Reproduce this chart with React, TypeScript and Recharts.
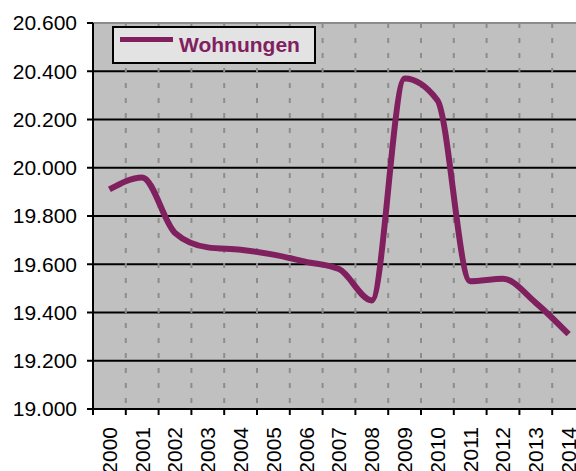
import React from 'react';
import { LineChart, Line, XAxis, YAxis, CartesianGrid, ReferenceLine } from 'recharts';

const years = ['2000', '2001', '2002', '2003', '2004', '2005', '2006', '2007', '2008', '2009', '2010', '2011', '2012', '2013', '2014'];
const wohnungen = [19910, 19960, 19730, 19670, 19660, 19640, 19610, 19580, 19450, 20370, 20280, 19530, 19540, 19440, 19310];
const yTicks = [19000, 19200, 19400, 19600, 19800, 20000, 20200, 20400, 20600];

const data = years.map((year, i) => ({ year, wohnungen: wohnungen[i] }));

const PURPLE = '#80205F';
const CHART_W = 600;
const CHART_H = 480;
const Y_W = 93;
const M_RIGHT = 15;
const BAND = (CHART_W - Y_W - M_RIGHT) / years.length;

// German thousands separator, e.g. 20.600
const fmt = (v: number) => `${Math.floor(v / 1000)}.${String(v % 1000).padStart(3, '0')}`;

const YearTick = ({ x, y, payload, index }: any) => (
  <g>
    <line x1={x - BAND / 2} y1={y} x2={x - BAND / 2} y2={y + 6} stroke="#000" strokeWidth={2} />
    {index === years.length - 1 && (
      <line x1={x + BAND / 2} y1={y} x2={x + BAND / 2} y2={y + 6} stroke="#000" strokeWidth={2} />
    )}
    <text
      x={x} y={y + 18} dy="0.35em" textAnchor="end" fontSize={21} fill="#000"
      transform={`rotate(-90, ${x}, ${y + 18})`}
    >
      {payload.value}
    </text>
  </g>
);

export default function App() {
  return (
    <div style={{
      position: 'absolute', left: 0, top: 0, width: 576, height: 471, overflow: 'hidden',
      background: '#fff', fontFamily: '"Liberation Sans", Arial, sans-serif',
    }}>
      <LineChart width={CHART_W} height={CHART_H} data={data} margin={{ top: 23, right: M_RIGHT, bottom: 0, left: 0 }}>
        <CartesianGrid vertical={false} fill="#C0C0C0" stroke="#000" strokeWidth={2} />
        <CartesianGrid
          horizontal={false} stroke="#8C8C8C" strokeWidth={2} strokeDasharray="5 10"
          verticalCoordinatesGenerator={({ offset }: any) =>
            years.map((_, i) => offset.left + (i + 1) * (offset.width / years.length))}
        />
        <XAxis
          dataKey="year" interval={0} height={CHART_H - 409}
          padding={{ left: BAND / 2, right: BAND / 2 }}
          axisLine={{ stroke: '#000', strokeWidth: 2 }} tickLine={false} tickSize={0} tickMargin={0}
          tick={<YearTick />}
        />
        <YAxis
          domain={[19000, 20600]} ticks={yTicks} width={Y_W} allowDataOverflow
          tickSize={6} tickMargin={10} tickFormatter={fmt}
          axisLine={{ stroke: '#000', strokeWidth: 2 }} tickLine={{ stroke: '#000', strokeWidth: 2 }}
          tick={{ fill: '#000', fontSize: 21 }}
        />
        <ReferenceLine y={20600} stroke="#8C8C8C" strokeWidth={2} />
        <Line
          dataKey="wohnungen" name="Wohnungen" type="monotone"
          stroke={PURPLE} strokeWidth={6} dot={false} isAnimationActive={false}
        />
      </LineChart>

      <div style={{
        position: 'absolute', left: 112, top: 26, width: 204, height: 38, boxSizing: 'border-box',
        border: '2px solid #000', background: '#E3E3E3',
      }}>
        <span style={{ position: 'absolute', left: 6, top: 9, width: 53, height: 5, background: PURPLE }} />
        <span style={{
          position: 'absolute', left: 65, top: 0, lineHeight: '34px', fontSize: 21,
          fontWeight: 'bold', color: PURPLE, whiteSpace: 'nowrap',
        }}>Wohnungen</span>
      </div>
    </div>
  );
}
